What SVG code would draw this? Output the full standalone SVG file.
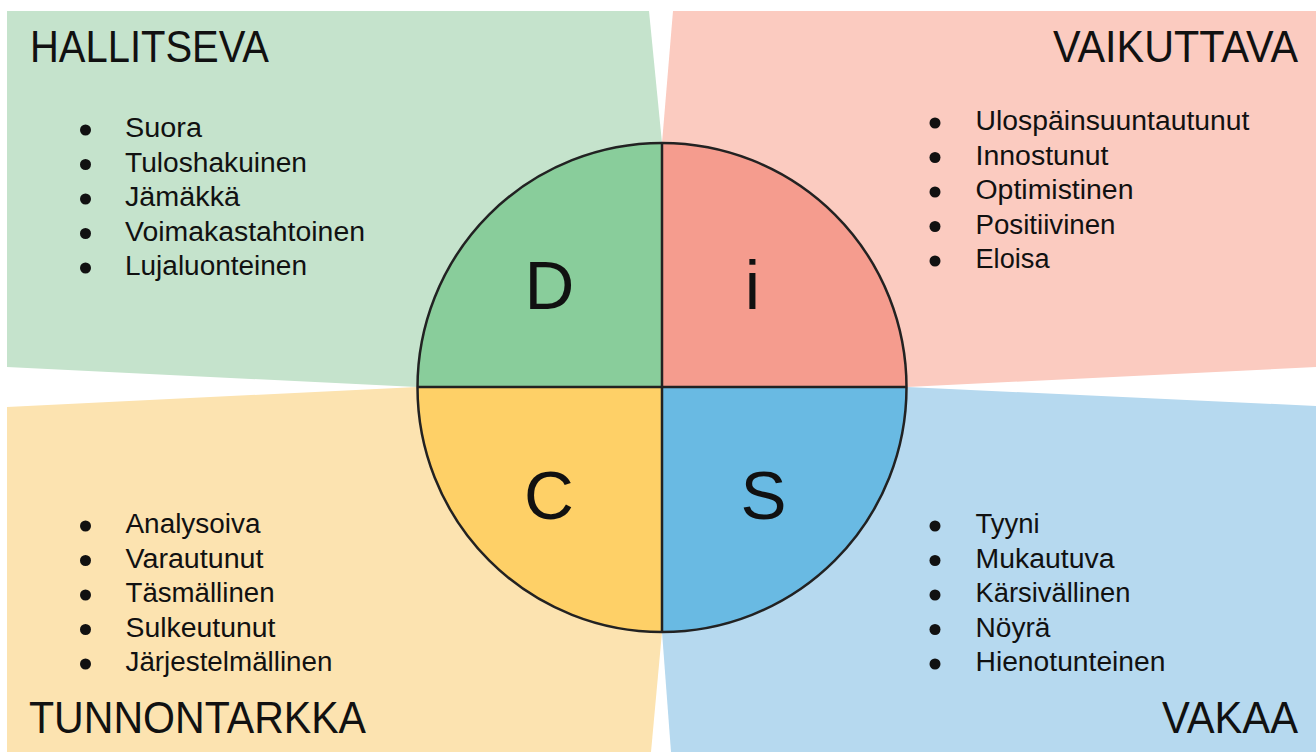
<svg xmlns="http://www.w3.org/2000/svg" width="1316" height="752" viewBox="0 0 1316 752">
<style>
.t{font-family:"Liberation Sans",Arial,sans-serif;fill:#111;}
.title{font-size:44px;}
.item{font-size:27px;}
.big{font-size:69px;text-anchor:middle;}
.b{fill:#111;}
.q{stroke:none;}
.edge{fill:none;stroke:#222;stroke-width:2.5;}
</style>
<rect width="1316" height="752" fill="#ffffff"/>
<g id="bg">
<polygon fill="#c5e3cc" points="7,11 649,11 662,143 662,387 417,387 7,367"/>
<polygon fill="#fbcbc0" points="673,11 1316,11 1316,367 907,387 662,387 662,143"/>
<polygon fill="#b6d9ef" points="662,387 907,387 1316,406 1316,752 671,752 662,632"/>
<polygon fill="#fce3b0" points="7,407 417,387 662,387 662,632 651,752 7,752"/>
</g>
<g id="circle">
<path class="q" fill="#89cd9b" d="M662,387.5 L417.5,387.5 A244.5,244.5 0 0 1 662,143 Z"/>
<path class="q" fill="#f59c8e" d="M662,387.5 L662,143 A244.5,244.5 0 0 1 906.5,387.5 Z"/>
<path class="q" fill="#69bae3" d="M662,387.5 L906.5,387.5 A244.5,244.5 0 0 1 662,632 Z"/>
<path class="q" fill="#fed067" d="M662,387.5 L662,632 A244.5,244.5 0 0 1 417.5,387.5 Z"/>
<circle class="edge" cx="662" cy="387.5" r="244.5"/>
<line class="edge" x1="417.5" y1="387" x2="906.5" y2="387"/>
<line class="edge" x1="662" y1="143" x2="662" y2="632"/>
<text class="t big" x="549.5" y="309">D</text>
<text class="t big" x="752.5" y="309">i</text>
<text class="t big" x="549" y="519">C</text>
<text class="t big" x="763.5" y="519">S</text>
</g>
<g id="hallitseva">
<text class="t title" x="30" y="62" textLength="239" lengthAdjust="spacingAndGlyphs">HALLITSEVA</text>
<circle class="b" cx="85.5" cy="130" r="5.5"/>
<circle class="b" cx="85.5" cy="164.5" r="5.5"/>
<circle class="b" cx="85.5" cy="199" r="5.5"/>
<circle class="b" cx="85.5" cy="233.5" r="5.5"/>
<circle class="b" cx="85.5" cy="268" r="5.5"/>
<text class="t item" x="125" y="137.3" textLength="77" lengthAdjust="spacingAndGlyphs">Suora</text>
<text class="t item" x="125" y="171.8" textLength="182" lengthAdjust="spacingAndGlyphs">Tuloshakuinen</text>
<text class="t item" x="125" y="206.3" textLength="115" lengthAdjust="spacingAndGlyphs">Jämäkkä</text>
<text class="t item" x="125" y="240.8" textLength="240" lengthAdjust="spacingAndGlyphs">Voimakastahtoinen</text>
<text class="t item" x="125" y="275.3" textLength="182" lengthAdjust="spacingAndGlyphs">Lujaluonteinen</text>
</g>
<g id="vaikuttava">
<text class="t title" x="1053" y="62" textLength="245" lengthAdjust="spacingAndGlyphs">VAIKUTTAVA</text>
<circle class="b" cx="935" cy="123" r="5.5"/>
<circle class="b" cx="935" cy="157.5" r="5.5"/>
<circle class="b" cx="935" cy="192" r="5.5"/>
<circle class="b" cx="935" cy="226.5" r="5.5"/>
<circle class="b" cx="935" cy="261" r="5.5"/>
<text class="t item" x="975.5" y="130" textLength="274" lengthAdjust="spacingAndGlyphs">Ulospäinsuuntautunut</text>
<text class="t item" x="975.5" y="164.5" textLength="133" lengthAdjust="spacingAndGlyphs">Innostunut</text>
<text class="t item" x="975.5" y="199" textLength="158" lengthAdjust="spacingAndGlyphs">Optimistinen</text>
<text class="t item" x="975.5" y="233.5" textLength="140" lengthAdjust="spacingAndGlyphs">Positiivinen</text>
<text class="t item" x="975.5" y="268" textLength="74" lengthAdjust="spacingAndGlyphs">Eloisa</text>
</g>
<g id="tunnontarkka">
<text class="t title" x="29" y="733" textLength="337" lengthAdjust="spacingAndGlyphs">TUNNONTARKKA</text>
<circle class="b" cx="85.5" cy="526" r="5.5"/>
<circle class="b" cx="85.5" cy="560.5" r="5.5"/>
<circle class="b" cx="85.5" cy="595" r="5.5"/>
<circle class="b" cx="85.5" cy="629.5" r="5.5"/>
<circle class="b" cx="85.5" cy="664" r="5.5"/>
<text class="t item" x="125.5" y="533" textLength="135" lengthAdjust="spacingAndGlyphs">Analysoiva</text>
<text class="t item" x="125.5" y="567.5" textLength="138" lengthAdjust="spacingAndGlyphs">Varautunut</text>
<text class="t item" x="125.5" y="602" textLength="149" lengthAdjust="spacingAndGlyphs">Täsmällinen</text>
<text class="t item" x="125.5" y="636.5" textLength="150" lengthAdjust="spacingAndGlyphs">Sulkeutunut</text>
<text class="t item" x="125.5" y="671" textLength="207" lengthAdjust="spacingAndGlyphs">Järjestelmällinen</text>
</g>
<g id="vakaa">
<text class="t title" x="1162" y="733" textLength="136" lengthAdjust="spacingAndGlyphs">VAKAA</text>
<circle class="b" cx="935" cy="526" r="5.5"/>
<circle class="b" cx="935" cy="560.5" r="5.5"/>
<circle class="b" cx="935" cy="595" r="5.5"/>
<circle class="b" cx="935" cy="629.5" r="5.5"/>
<circle class="b" cx="935" cy="664" r="5.5"/>
<text class="t item" x="975.5" y="533" textLength="64" lengthAdjust="spacingAndGlyphs">Tyyni</text>
<text class="t item" x="975.5" y="567.5" textLength="139" lengthAdjust="spacingAndGlyphs">Mukautuva</text>
<text class="t item" x="975.5" y="602" textLength="155" lengthAdjust="spacingAndGlyphs">Kärsivällinen</text>
<text class="t item" x="975.5" y="636.5" textLength="75" lengthAdjust="spacingAndGlyphs">Nöyrä</text>
<text class="t item" x="975.5" y="671" textLength="190" lengthAdjust="spacingAndGlyphs">Hienotunteinen</text>
</g>
</svg>
